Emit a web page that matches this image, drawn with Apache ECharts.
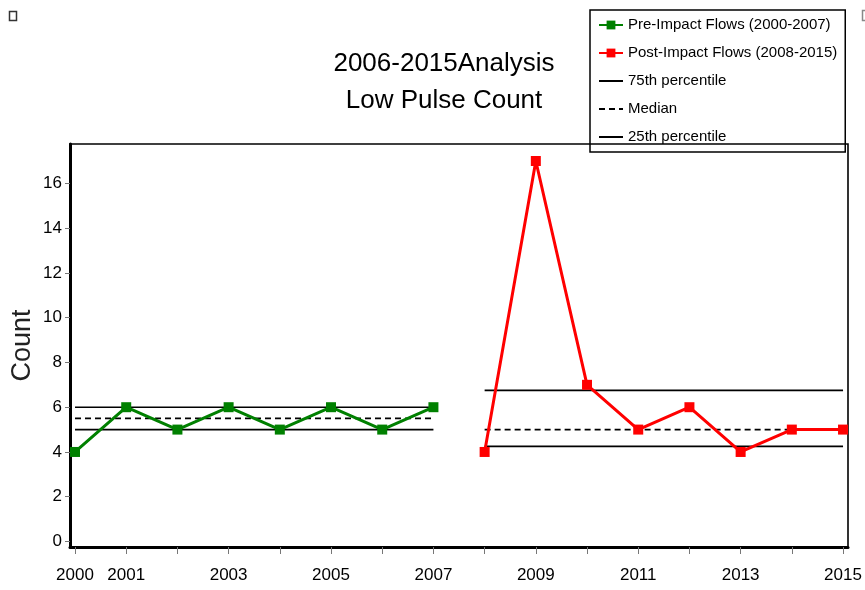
<!DOCTYPE html>
<html>
<head>
<meta charset="utf-8">
<script src="https://cdn.jsdelivr.net/npm/echarts@6/dist/echarts.min.js"></script>
<style>
html,body{margin:0;padding:0;background:#fff;}
#chart{width:865px;height:590px;}
</style>
</head>
<body>
<div id="chart"></div>
<script>
// ---- data ----
var preYears = [2000, 2001, 2002, 2003, 2004, 2005, 2006, 2007];
var preValues = [4, 6, 5, 6, 5, 6, 5, 6];
var postYears = [2008, 2009, 2010, 2011, 2012, 2013, 2014, 2015];
var postValues = [4, 17, 7, 5, 6, 4, 5, 5];
var preSpan = [2000, 2007];
var postSpan = [2008, 2015];
var p75 = [6, 6.75];     // pre, post
var median = [5.5, 5];   // pre, post
var p25 = [5, 4.25];     // pre, post
var xTickYears = [2000,2001,2002,2003,2004,2005,2006,2007,2008,2009,2010,2011,2012,2013,2014,2015];
var xLabelYears = [2000, 2001, 2003, 2005, 2007, 2009, 2011, 2013, 2015];
var yTicks = [0, 2, 4, 6, 8, 10, 12, 14, 16];

var names = {
  pre: 'Pre-Impact Flows (2000-2007)',
  post: 'Post-Impact Flows (2008-2015)',
  p75: '75th percentile',
  med: 'Median',
  p25: '25th percentile'
};

function pairs(xs, ys) { return xs.map(function (x, i) { return [x, ys[i]]; }); }
function flat(span, v) { return span.map(function (x) { return [x, v]; }); }

var FONT = '"Liberation Sans", Arial, sans-serif';

function pctSeries(name, span, v, dashed) {
  return {
    name: name, type: 'line', data: flat(span, v),
    symbol: 'none', silent: true, z: 2,
    lineStyle: { color: '#000', width: 1.6, type: dashed ? [6, 4] : 'solid' },
    itemStyle: { color: '#000' }
  };
}

var chart = echarts.init(document.getElementById('chart'), null, { renderer: 'canvas' });
chart.setOption({
  animation: false,
  backgroundColor: '#fff',
  title: {
    text: '2006-2015Analysis\nLow Pulse Count',
    left: 439, top: 40, textAlign: 'center',
    textStyle: { fontFamily: FONT, fontSize: 26, fontWeight: 'normal', color: '#000', lineHeight: 37 }
  },
  legend: {
    orient: 'vertical', left: 590, top: 10,
    padding: [6, 8, 6, 8],
    itemWidth: 24, itemHeight: 11, itemGap: 10,
    borderColor: '#000', borderWidth: 1.5, backgroundColor: 'transparent',
    textStyle: { fontFamily: FONT, fontSize: 15, color: '#000', lineHeight: 18 },
    data: [
      { name: names.pre },
      { name: names.post },
      { name: names.p75, itemStyle: { opacity: 0 } },
      { name: names.med, itemStyle: { opacity: 0 } },
      { name: names.p25, itemStyle: { opacity: 0 } }
    ],
    selectedMode: false
  },
  grid: {
    left: 70, right: 17, top: 144, bottom: 43,
    outerBoundsMode: 'none',
    show: true, borderColor: '#000', borderWidth: 1.6, containLabel: false
  },
  xAxis: {
    type: 'value', min: 1999.902, max: 2015.097,
    axisLine: { show: true, onZero: false, lineStyle: { color: '#000', width: 3 } },
    axisTick: { show: true, customValues: xTickYears, length: 7, lineStyle: { color: '#777', width: 1 } },
    axisLabel: { customValues: xLabelYears, margin: 20, fontFamily: FONT, fontSize: 17, color: '#000',
      formatter: function (v) { return String(Math.round(v)); } },
    splitLine: { show: false }
  },
  yAxis: {
    type: 'value', min: -0.246, max: 17.76,
    name: 'Count', nameLocation: 'middle', nameGap: 34, nameRotate: 90, nameMoveOverlap: false,
    nameTextStyle: { fontFamily: FONT, fontSize: 27, color: '#222' },
    axisLine: { show: true, onZero: false, lineStyle: { color: '#000', width: 3 } },
    axisTick: { show: true, customValues: yTicks, length: 5, lineStyle: { color: '#777', width: 1 } },
    axisLabel: { customValues: yTicks, margin: 8, fontFamily: FONT, fontSize: 17, color: '#000' },
    splitLine: { show: false }
  },
  graphic: [
    { type: 'rect', shape: { x: 9.5, y: 11.5, width: 7, height: 9 }, style: { fill: '#fff', stroke: '#333', lineWidth: 1.5 } },
    { type: 'rect', shape: { x: 862.5, y: 10.5, width: 8, height: 10 }, style: { fill: '#fff', stroke: '#888', lineWidth: 1.5 } }
  ],
  series: [
    {
      name: names.pre, type: 'line', data: pairs(preYears, preValues),
      symbol: 'rect', symbolSize: 10, z: 3,
      lineStyle: { color: '#008000', width: 3 }, itemStyle: { color: '#008000' }
    },
    {
      name: names.post, type: 'line', data: pairs(postYears, postValues),
      symbol: 'rect', symbolSize: 10, z: 3,
      lineStyle: { color: '#ff0000', width: 3 }, itemStyle: { color: '#ff0000' }
    },
    pctSeries(names.p75, preSpan, p75[0], false),
    pctSeries(names.p75, postSpan, p75[1], false),
    pctSeries(names.med, preSpan, median[0], true),
    pctSeries(names.med, postSpan, median[1], true),
    pctSeries(names.p25, preSpan, p25[0], false),
    pctSeries(names.p25, postSpan, p25[1], false)
  ]
});
</script>
</body>
</html>
